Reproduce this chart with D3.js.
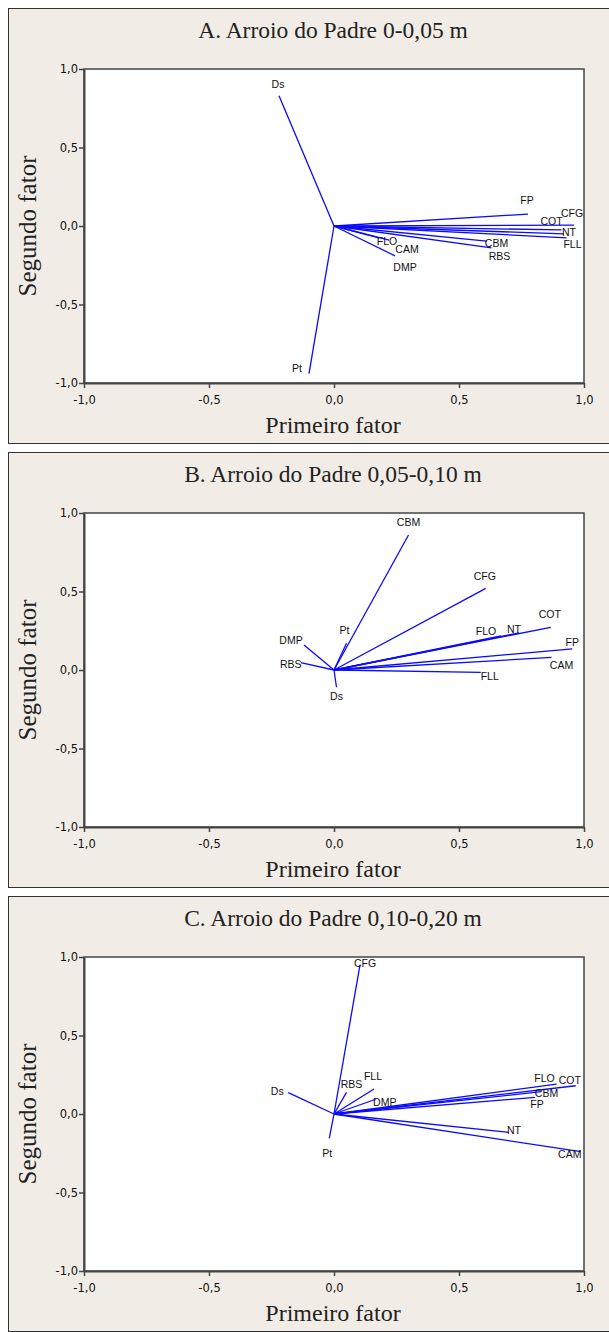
<!DOCTYPE html>
<html>
<head>
<meta charset="utf-8" />
<title>Arroio do Padre</title>
<script src="https://cdn.jsdelivr.net/npm/d3@7"></script>
<style>
  html, body { margin: 0; background: #fff; }
</style>
</head>
<body>
<div id="container"></div>
<script>
// panel titles
var titles = [
  "A. Arroio do Padre 0-0,05 m",
  "B. Arroio do Padre 0,05-0,10 m",
  "C. Arroio do Padre 0,10-0,20 m"
];

// loadings (first factor, second factor)
var namesA = ["Ds", "Pt", "FP", "CFG", "COT", "NT", "FLL", "CBM", "RBS", "FLO", "CAM", "DMP"];
var f1A = [-0.22, -0.10, 0.776, 0.96, 0.91, 0.92, 0.93, 0.61, 0.63, 0.18, 0.22, 0.244];
var f2A = [0.83, -0.94, 0.076, 0.006, -0.025, -0.05, -0.075, -0.096, -0.14, -0.075, -0.09, -0.19];

var namesB = ["CBM", "CFG", "COT", "FLO", "NT", "FP", "CAM", "FLL", "DMP", "RBS", "Pt", "Ds"];
var f1B = [0.298, 0.607, 0.867, 0.668, 0.74, 0.953, 0.87, 0.587, -0.12, -0.133, 0.05, 0.01];
var f2B = [0.86, 0.52, 0.272, 0.217, 0.236, 0.134, 0.08, -0.015, 0.16, 0.047, 0.17, -0.11];

var namesC = ["CFG", "Ds", "Pt", "RBS", "FLL", "DMP", "FLO", "COT", "CBM", "FP", "NT", "CAM"];
var f1C = [0.104, -0.183, -0.019, 0.05, 0.16, 0.167, 0.89, 0.967, 0.83, 0.804, 0.70, 0.987];
var f2C = [0.95, 0.136, -0.155, 0.138, 0.159, 0.094, 0.19, 0.18, 0.142, 0.106, -0.117, -0.24];

var ticks = [-1, -0.5, 0, 0.5, 1];

// label nudges in pixels (dx, dy of label centre from the vector tip)
var nudgeA = { Ds:[-1,-10], Pt:[-12,-4], FP:[-1,-13], CFG:[-2,-11], COT:[-10,-8], NT:[5,-1],
  FLL:[6,7], CBM:[10,3], RBS:[8,9], FLO:[8,4], CAM:[18,10], DMP:[10,12] };
var nudgeB = { CBM:[0,-12], CFG:[-1,-11], COT:[-1,-12], FLO:[-15,-4], NT:[-5,-3], FP:[0,-6],
  CAM:[10,9], FLL:[9,5], DMP:[-13,-4], RBS:[-10,3], Pt:[-2,-12], Ds:[0,10] };
var nudgeC = { CFG:[5,-1], Ds:[-11,0], Pt:[-2,16], RBS:[5,-7], FLL:[-1,-12], DMP:[9,4],
  FLO:[-12,-5], COT:[-6,-5], CBM:[5,3], FP:[2,8], NT:[5,-1], CAM:[-11,4] };

var panels = [
  { names: namesA, f1: f1A, f2: f2A, nudge: nudgeA },
  { names: namesB, f1: f1B, f2: f2B, nudge: nudgeB },
  { names: namesC, f1: f1C, f2: f2C, nudge: nudgeC }
];

var W = 609, H = 1332;
var serif = "Liberation Serif, Times New Roman, serif";
var svg = d3.select("#container").append("svg")
    .attr("width", W).attr("height", H);

// comma decimals, plain hyphen for minus
var fmt = function(d) { return d3.format(".1f")(d).replace(".", ",").replace("\u2212", "-"); };

var x = d3.scaleLinear().domain([-1, 1]).range([84, 584]);
var y = d3.scaleLinear().domain([-1, 1]).range([314, 0]);

panels.forEach(function(p, i) {
  var top = 8 + i * 444;
  var g = svg.append("g").attr("transform", "translate(0," + top + ")");

  g.append("rect")
    .attr("x", 8.5).attr("y", 0.5)
    .attr("width", 620).attr("height", 435)
    .attr("fill", "#f1ede6").attr("stroke", "#333").attr("stroke-width", 1);

  g.append("text")
    .attr("x", 333).attr("y", 25)
    .attr("text-anchor", "middle").attr("dominant-baseline", "middle")
    .style("font-family", serif)
    .style("font-size", "23.5px").attr("fill", "#222")
    .text(titles[i]);

  var plot = g.append("g").attr("transform", "translate(0,61)");

  plot.append("rect")
    .attr("x", 84).attr("y", 0).attr("width", 500).attr("height", 314)
    .attr("fill", "#fff").attr("stroke", "#444").attr("stroke-width", 1.5);

  var ax = plot.append("g").attr("transform", "translate(0,314)")
    .call(d3.axisBottom(x).tickValues(ticks).tickFormat(fmt).tickSize(5).tickSizeOuter(0));
  var ay = plot.append("g").attr("transform", "translate(84,0)")
    .call(d3.axisLeft(y).tickValues(ticks).tickFormat(fmt).tickSize(5).tickSizeOuter(0));
  [ax, ay].forEach(function(a) {
    a.select(".domain").attr("stroke", "#444").attr("stroke-width", 2);
    a.selectAll(".tick line").attr("stroke", "#444").attr("stroke-width", 1.5);
    a.selectAll(".tick text")
      .style("font-family", "DejaVu Sans, Verdana, sans-serif")
      .style("font-size", "11.5px").attr("fill", "#111");
  });
  ax.selectAll(".tick text").attr("dy", "1.1em");
  ay.selectAll(".tick text").attr("x", -6);

  var idx = d3.range(p.names.length);
  plot.selectAll("line.vec").data(idx).enter().append("line")
    .attr("class", "vec")
    .attr("x1", x(0)).attr("y1", y(0))
    .attr("x2", function(k) { return x(p.f1[k]); })
    .attr("y2", function(k) { return y(p.f2[k]); })
    .attr("stroke", "#0a0aff").attr("stroke-width", 1.3);

  plot.selectAll("text.lab").data(idx).enter().append("text")
    .attr("class", "lab")
    .attr("x", function(k) { return x(p.f1[k]) + p.nudge[p.names[k]][0]; })
    .attr("y", function(k) { return y(p.f2[k]) + p.nudge[p.names[k]][1]; })
    .attr("text-anchor", "middle").attr("dominant-baseline", "middle")
    .style("font-family", "Liberation Sans, Arial, sans-serif")
    .style("font-size", "10.5px").attr("fill", "#111")
    .text(function(k) { return p.names[k]; });

  g.append("text")
    .attr("x", 333).attr("y", 61 + 314 + 44)
    .attr("text-anchor", "middle").attr("dominant-baseline", "middle")
    .style("font-family", serif)
    .style("font-size", "24px").attr("fill", "#222")
    .text("Primeiro fator");

  g.append("text")
    .attr("transform", "translate(30," + (61 + 157) + ") rotate(-90)")
    .attr("text-anchor", "middle").attr("dominant-baseline", "middle")
    .style("font-family", serif)
    .style("font-size", "25px").attr("fill", "#222")
    .text("Segundo fator");
});
</script>
</body>
</html>
